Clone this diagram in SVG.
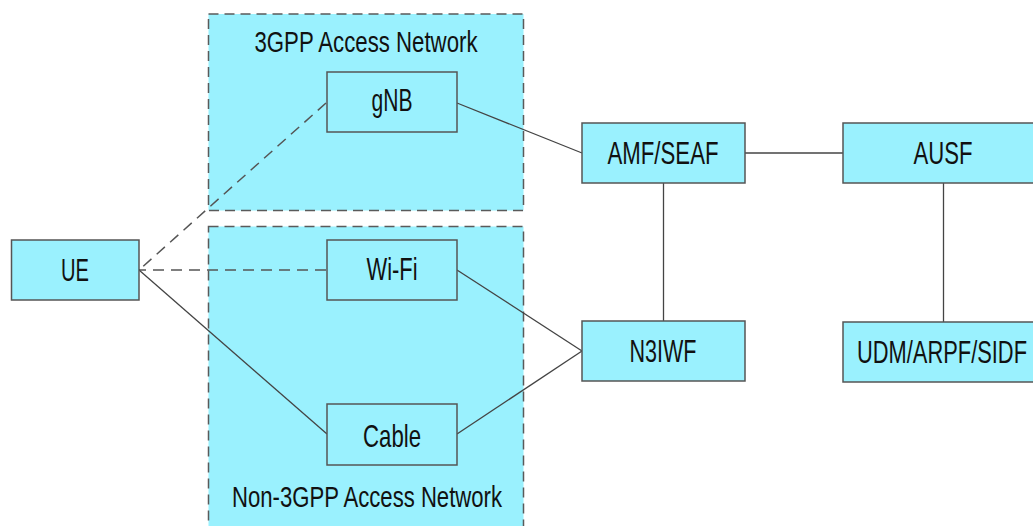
<svg xmlns="http://www.w3.org/2000/svg" width="1033" height="526" viewBox="0 0 1033 526">
  <style>
    .area { fill: #9af1fe; stroke: #5a5a5a; stroke-width: 1.5; stroke-dasharray: 10 6; }
    .node rect { fill: #9af1fe; stroke: #555555; stroke-width: 1.5; }
    .lbl { font-family: "Liberation Sans", Arial, sans-serif; font-size: 32px; fill: #111111; text-anchor: middle; }
    .area-lbl { font-family: "Liberation Sans", Arial, sans-serif; font-size: 29px; fill: #111111; text-anchor: middle; }
    .link { fill: none; stroke: #444444; stroke-width: 1.3; }
    .link.dash { stroke: #555555; stroke-width: 1.5; stroke-dasharray: 11 7; }
  </style>
  <defs>
    <marker id="tip" viewBox="0 0 10 10" refX="1" refY="5" markerWidth="6" markerHeight="6" orient="auto-start-reverse" markerUnits="userSpaceOnUse">
      <path d="M 9 1 L 1 5 L 9 9" fill="none" stroke="#222222" stroke-width="1.6"/>
    </marker>
  </defs>

  <rect width="1033" height="526" fill="#ffffff"/>

  <!-- access network areas -->
  <g id="area-3gpp">
    <rect class="area" x="208.5" y="14" width="315" height="196.5"/>
    <text class="area-lbl" x="366" y="52" textLength="223" lengthAdjust="spacingAndGlyphs">3GPP Access Network</text>
  </g>
  <g id="area-non3gpp">
    <rect class="area" x="208.5" y="226.5" width="315" height="320"/>
    <text class="area-lbl" x="367" y="507" textLength="270" lengthAdjust="spacingAndGlyphs">Non-3GPP Access Network</text>
  </g>

  <!-- connectors -->
  <g id="connectors">
    <line class="link dash" x1="326" y1="103" x2="139" y2="270"/>
    <line class="link dash" x1="326" y1="270" x2="140" y2="270" marker-end="url(#tip)"/>
    <line class="link" x1="139" y1="270" x2="327" y2="434"/>
    <line class="link" x1="457" y1="103" x2="582" y2="153"/>
    <line class="link" x1="745" y1="153" x2="843" y2="153"/>
    <line class="link" x1="663.5" y1="183" x2="663.5" y2="321"/>
    <line class="link" x1="943.5" y1="183" x2="943.5" y2="322"/>
    <line class="link" x1="457" y1="270" x2="582" y2="351"/>
    <line class="link" x1="457" y1="434" x2="582" y2="351"/>
  </g>

  <!-- nodes -->
  <g id="ue" class="node">
    <rect x="11.5" y="240" width="127.5" height="60"/>
    <text class="lbl" x="75" y="281" textLength="28" lengthAdjust="spacingAndGlyphs">UE</text>
  </g>
  <g id="gnb" class="node">
    <rect x="327" y="72" width="130" height="60"/>
    <text class="lbl" x="392" y="111" textLength="41" lengthAdjust="spacingAndGlyphs">gNB</text>
  </g>
  <g id="wifi" class="node">
    <rect x="327" y="240" width="130" height="60"/>
    <text class="lbl" x="392" y="280" textLength="51" lengthAdjust="spacingAndGlyphs">Wi-Fi</text>
  </g>
  <g id="cable" class="node">
    <rect x="327" y="404" width="130" height="61"/>
    <text class="lbl" x="392" y="447" textLength="58" lengthAdjust="spacingAndGlyphs">Cable</text>
  </g>
  <g id="amf-seaf" class="node">
    <rect x="582" y="123" width="163" height="60"/>
    <text class="lbl" x="663" y="164" textLength="111" lengthAdjust="spacingAndGlyphs">AMF/SEAF</text>
  </g>
  <g id="n3iwf" class="node">
    <rect x="582" y="321" width="163" height="60"/>
    <text class="lbl" x="663" y="362" textLength="67" lengthAdjust="spacingAndGlyphs">N3IWF</text>
  </g>
  <g id="ausf" class="node">
    <rect x="843" y="123" width="200" height="60"/>
    <text class="lbl" x="943" y="164" textLength="59" lengthAdjust="spacingAndGlyphs">AUSF</text>
  </g>
  <g id="udm-arpf-sidf" class="node">
    <rect x="843" y="322" width="200" height="60"/>
    <text class="lbl" x="942" y="363" textLength="170" lengthAdjust="spacingAndGlyphs">UDM/ARPF/SIDF</text>
  </g>
</svg>
